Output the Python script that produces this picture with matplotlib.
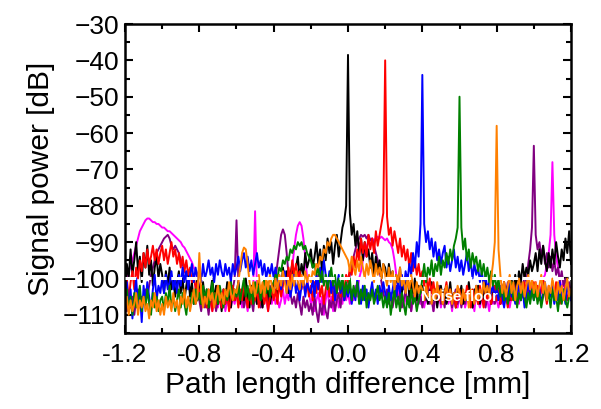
import numpy as np
import matplotlib
matplotlib.use("Agg")
import matplotlib.pyplot as plt
from matplotlib.ticker import MultipleLocator

# ---- data, grid step 0.01 mm from -1.2 to 1.2 ----
# each row = 20 samples (0.2 mm), final single value at x = 1.2
x_start, x_stop, n_pts = -1.2, 1.2, 241

black = [
    -104, -96, -100, -92, -99, -95, -90, -98, -94, -101, -93, -97, -91, -99, -95, -102, -97, -94, -100, -96,
    -99, -104, -98, -102, -97, -103, -100, -105, -101, -98, -104, -100, -106, -102, -99, -105, -101, -107, -103, -100,
    -103, -107, -101, -106, -103, -108, -104, -100, -106, -102, -107, -104, -109, -103, -106, -101, -105, -108, -103, -106,
    -104, -101, -107, -103, -106, -100, -105, -108, -102, -106, -103, -107, -101, -105, -108, -103, -106, -102, -107, -104,
    -102, -99, -105, -100, -103, -97, -101, -98, -104, -99, -96, -101, -97, -94, -100, -96, -99, -93, -97, -95,
    -92, -97, -94, -90, -96, -92, -98, -91, -95, -89, -93, -90, -96, -91, -88, -94, -90, -86, -84, -80,
    -38.5, -82, -88, -85, -91, -87, -93, -89, -95, -90, -94, -92, -97, -93, -99, -94, -98, -95, -100, -96,
    -97, -101, -96, -100, -98, -103, -99, -102, -97, -104, -100, -103, -99, -105, -101, -104, -100, -106, -102, -104,
    -102, -106, -103, -107, -104, -101, -106, -103, -108, -104, -102, -106, -103, -107, -105, -101, -106, -104, -108, -103,
    -105, -102, -107, -104, -106, -101, -105, -108, -103, -106, -102, -107, -104, -106, -101, -105, -103, -107, -104, -102,
    -106, -103, -107, -104, -101, -105, -102, -106, -100, -104, -99, -103, -98, -101, -96, -100, -97, -99, -95, -98,
    -96, -93, -98, -92, -96, -91, -95, -98, -93, -97, -92, -96, -90, -94, -97, -92, -95, -89, -93, -87,
    -96]

red = [
    -104, -100, -106, -101, -98, -103, -97, -100, -95, -98, -93, -97, -92, -96, -94, -91, -95, -92, -96, -93,
    -91, -95, -92, -96, -93, -90, -94, -92, -96, -93, -97, -94, -98, -95, -99, -97, -101, -99, -103, -101,
    -105, -102, -107, -104, -108, -103, -106, -109, -104, -107, -102, -106, -108, -103, -107, -104, -109, -105, -102, -106,
    -104, -108, -103, -106, -101, -105, -108, -103, -107, -104, -106, -102, -108, -105, -103, -107, -104, -109, -105, -103,
    -106, -103, -107, -101, -105, -102, -99, -103, -97, -101, -95, -99, -96, -100, -98, -103, -100, -104, -101, -105,
    -102, -106, -101, -104, -99, -105, -102, -107, -103, -100, -105, -101, -106, -102, -104, -100, -105, -101, -103, -99,
    -101, -97, -99, -94, -97, -92, -95, -89, -93, -90, -94, -88, -92, -89, -93, -87, -91, -88, -85, -82,
    -40, -83, -88, -86, -91, -87, -90, -93, -89, -94, -91, -95, -92, -97, -93, -98, -95, -99, -96, -100,
    -98, -102, -99, -103, -100, -104, -101, -105, -102, -106, -103, -107, -104, -101, -106, -103, -107, -104, -108, -105,
    -103, -107, -104, -106, -102, -105, -108, -103, -106, -104, -107, -102, -105, -108, -104, -106, -103, -107, -105, -102,
    -106, -103, -107, -104, -101, -105, -108, -103, -106, -102, -105, -107, -103, -106, -104, -101, -105, -102, -106, -103,
    -101, -105, -102, -106, -103, -100, -104, -107, -102, -105, -103, -106, -101, -104, -107, -103, -105, -102, -106, -104,
    -103]

blue = [
    -106, -101, -109, -103, -111, -105, -100, -108, -104, -112, -102, -107, -101, -105, -109, -103, -99, -106, -102, -104,
    -100, -104, -99, -103, -101, -98, -103, -100, -104, -99, -102, -97, -101, -98, -103, -99, -96, -101, -97, -100,
    -97, -101, -96, -100, -98, -95, -99, -97, -101, -96, -99, -95, -98, -100, -96, -99, -97, -101, -96, -99,
    -97, -94, -98, -95, -93, -97, -94, -98, -95, -99, -96, -93, -97, -95, -99, -96, -100, -97, -99, -96,
    -100, -97, -102, -99, -103, -100, -98, -104, -101, -105, -102, -99, -104, -101, -106, -102, -100, -105, -101, -103,
    -104, -100, -105, -99, -103, -97, -101, -95, -99, -102, -98, -104, -100, -106, -102, -99, -104, -101, -106, -103,
    -105, -102, -107, -103, -106, -100, -104, -107, -102, -106, -103, -108, -104, -101, -106, -103, -107, -102, -105, -101,
    -104, -107, -102, -106, -103, -100, -105, -101, -104, -99, -103, -98, -101, -96, -99, -93, -97, -90, -94, -85,
    -44, -85, -90, -87, -92, -89, -94, -90, -95, -92, -96, -93, -91, -97, -94, -98, -95, -92, -97, -94,
    -98, -95, -99, -96, -93, -98, -95, -100, -96, -99, -97, -101, -98, -102, -99, -103, -101, -104, -102, -105,
    -103, -106, -102, -105, -108, -104, -106, -101, -105, -103, -107, -104, -102, -106, -103, -108, -104, -101, -105, -103,
    -106, -102, -105, -103, -107, -104, -101, -106, -103, -105, -102, -107, -104, -106, -101, -105, -103, -107, -102, -104,
    -106]

green = [
    -107, -103, -109, -105, -110, -104, -108, -106, -102, -109, -105, -108, -103, -107, -110, -104, -108, -105, -109, -106,
    -105, -109, -104, -107, -102, -108, -105, -109, -106, -103, -108, -104, -107, -110, -105, -108, -104, -107, -103, -106,
    -104, -107, -102, -106, -103, -108, -105, -101, -106, -104, -107, -102, -105, -108, -103, -106, -104, -101, -106, -103,
    -105, -102, -106, -103, -100, -105, -102, -106, -103, -107, -101, -104, -102, -106, -103, -100, -104, -101, -105, -102,
    -101, -99, -100, -97, -98, -95, -96, -94, -95, -92, -93, -91, -92, -90, -91, -90, -92, -91, -93, -94,
    -95, -97, -96, -99, -97, -101, -98, -102, -99, -103, -100, -97, -102, -99, -104, -100, -103, -99, -105, -101,
    -104, -100, -106, -102, -105, -101, -107, -103, -106, -102, -108, -104, -106, -103, -107, -105, -102, -106, -104, -108,
    -105, -108, -104, -110, -106, -103, -108, -105, -109, -104, -107, -110, -105, -108, -103, -107, -105, -109, -106, -104,
    -100, -96, -101, -97, -99, -95, -100, -96, -98, -94, -99, -95, -97, -93, -96, -92, -95, -91, -89, -86,
    -50, -86, -92, -89, -95, -92, -97, -93, -96, -94, -98, -95, -99, -96, -100, -97, -101, -98, -102, -99,
    -103, -100, -105, -102, -106, -103, -107, -104, -101, -106, -103, -108, -104, -106, -102, -105, -108, -104, -107, -103,
    -106, -103, -107, -104, -108, -105, -102, -106, -104, -108, -103, -106, -105, -109, -104, -107, -103, -106, -108, -105,
    -104]

orange = [
    -108, -105, -110, -106, -109, -107, -104, -110, -106, -108, -105, -109, -107, -111, -106, -108, -104, -109, -106, -110,
    -107, -110, -105, -108, -106, -109, -104, -108, -106, -110, -105, -107, -103, -108, -105, -109, -106, -103, -107, -105,
    -93, -104, -108, -105, -107, -103, -106, -104, -108, -105, -102, -106, -104, -107, -103, -105, -101, -104, -106, -103,
    -104, -101, -97, -93, -91.5, -92, -96, -101, -104, -101, -105, -102, -99, -104, -101, -105, -100, -103, -99, -102,
    -104, -100, -103, -99, -102, -98, -101, -104, -100, -103, -99, -102, -98, -101, -103, -99, -102, -98, -101, -99,
    -101, -98, -99, -96, -97, -94, -95, -92, -93, -90, -91, -89, -88, -88, -89, -90, -91, -92, -93, -94,
    -95, -98, -94, -97, -99, -95, -98, -94, -97, -100, -96, -99, -95, -98, -101, -96, -99, -97, -100, -96,
    -99, -102, -97, -101, -98, -103, -99, -101, -97, -102, -100, -104, -100, -103, -99, -102, -105, -101, -104, -102,
    -103, -106, -102, -105, -104, -107, -103, -106, -101, -105, -103, -107, -104, -102, -106, -103, -107, -104, -105, -102,
    -104, -107, -103, -106, -104, -108, -103, -105, -107, -102, -106, -103, -105, -101, -104, -102, -105, -100, -96, -90,
    -58, -92, -99, -104, -101, -105, -102, -99, -104, -101, -106, -102, -100, -104, -101, -105, -102, -99, -103, -100,
    -104, -101, -105, -102, -99, -104, -101, -106, -102, -104, -100, -103, -106, -101, -104, -102, -106, -103, -100, -105,
    -103]

purple = [
    -106, -109, -104, -108, -105, -110, -106, -103, -108, -105, -107, -103, -105, -102, -99, -97, -95, -93, -92, -91,
    -90, -89, -88.5, -88, -89, -91, -92, -91, -92, -93, -95, -96, -98, -99, -101, -103, -105, -104, -107, -105,
    -106, -109, -104, -108, -106, -110, -105, -107, -104, -109, -106, -103, -108, -105, -107, -104, -108, -106, -103, -100,
    -84, -101, -106, -104, -108, -105, -107, -103, -106, -109, -104, -107, -105, -108, -103, -106, -104, -107, -102, -105,
    -103, -100, -96, -92, -88, -86.5, -88, -93, -99, -104, -107, -105, -108, -104, -107, -110, -105, -108, -106, -109,
    -107, -110, -105, -109, -112, -107, -110, -106, -109, -111, -106, -108, -105, -109, -106, -104, -108, -103, -106, -104,
    -102, -99, -97, -94, -92, -90, -89, -88, -88.5, -88, -89, -88, -89.5, -89, -91, -93, -95, -98, -101, -104,
    -106, -103, -107, -104, -108, -105, -102, -107, -104, -108, -106, -103, -107, -105, -109, -104, -106, -103, -107, -105,
    -108, -104, -106, -103, -107, -105, -109, -104, -106, -102, -107, -105, -108, -103, -106, -104, -108, -105, -103, -107,
    -104, -108, -105, -107, -103, -106, -104, -108, -105, -102, -107, -104, -106, -103, -108, -105, -102, -106, -104, -107,
    -105, -102, -106, -103, -107, -104, -101, -105, -102, -106, -103, -100, -104, -101, -103, -99, -101, -96, -92, -86,
    -63.5, -88, -92, -90, -94, -91, -96, -93, -97, -94, -98, -95, -99, -97, -101, -98, -102, -100, -103, -101,
    -104]

magenta = [
    -101, -100, -98, -97, -95, -93, -91, -89, -87, -86, -85, -84, -83.5, -83.5, -84, -84.5, -84.5, -85, -85, -85.5,
    -86, -86, -86.5, -87, -87, -87.5, -88, -88.5, -89, -89.5, -90, -91, -91.5, -92.5, -93.5, -94.5, -95.5, -97, -98, -100,
    -102, -105, -103, -107, -104, -108, -105, -109, -106, -103, -108, -105, -107, -104, -109, -106, -104, -108, -105, -107,
    -104, -107, -105, -108, -104, -106, -109, -105, -107, -103, -81.5, -103, -107, -105, -108, -104, -106, -109, -105, -107,
    -104, -107, -105, -108, -106, -103, -107, -104, -106, -101, -97, -92, -88, -85.5, -84.5, -85.5, -89, -94, -100, -104,
    -107, -105, -109, -106, -104, -108, -105, -110, -106, -103, -108, -105, -109, -106, -104, -108, -105, -107, -103, -106,
    -104, -107, -103, -106, -102, -105, -100, -98, -95, -93, -91, -90, -89.5, -89, -89.5, -89, -88.5, -89, -88.5, -89,
    -89.5, -89, -90, -90.5, -92, -95, -99, -103, -106, -104, -108, -105, -107, -104, -109, -106, -103, -108, -105, -107,
    -104, -108, -105, -107, -103, -106, -109, -105, -107, -104, -108, -105, -106, -103, -107, -105, -109, -104, -106, -108,
    -105, -107, -104, -108, -106, -103, -107, -105, -109, -104, -106, -108, -105, -107, -103, -106, -109, -105, -107, -104,
    -106, -108, -105, -107, -103, -106, -104, -108, -105, -102, -106, -104, -107, -103, -105, -102, -106, -103, -105, -101,
    -104, -101, -105, -102, -104, -100, -99, -96, -93, -88, -68, -88, -94, -97, -100, -103, -101, -104, -102, -105,
    -103]

# drawing order (bottom to top)
series = [("#ff00ff", magenta), ("#800080", purple), ("black", black),
          ("#ff0000", red), ("#0000ff", blue), ("#008000", green),
          ("#ff8000", orange)]

noise_floor = -100
x_ticks_major = [-1.2, -0.8, -0.4, 0.0, 0.4, 0.8, 1.2]
y_ticks_major = list(range(-110, -29, 10))

# ---- figure ----
plt.rcParams['font.family'] = ['Liberation Sans', 'DejaVu Sans']
fig = plt.figure(figsize=(6.01, 4.09), dpi=100)
ax = fig.add_axes([125/601, 76/409, 446/601, 309/409])

x = np.linspace(x_start, x_stop, n_pts)
for col, vals in series:
    n = min(len(vals), n_pts)
    ax.plot(x[:n], vals[:n], color=col, lw=1.4, zorder=2)

ax.axhline(noise_floor, color='white', lw=2.2, dashes=(3.5, 1.5), zorder=3)
ax.text(0.60, -105, "Noise floor", color='white', fontsize=10.5,
        fontweight='bold', ha='center', va='center', zorder=4)

ax.set_xlim(-1.2, 1.2)
ax.set_ylim(-115, -30)
ax.set_xticks(x_ticks_major)
ax.set_xticklabels([f"{v:.1f}" for v in x_ticks_major])
ax.set_yticks(y_ticks_major)
ax.xaxis.set_minor_locator(MultipleLocator(0.2))
ax.yaxis.set_minor_locator(MultipleLocator(5))
ax.tick_params(which='both', direction='in', top=True, right=True,
               labeltop=False, labelright=False, width=1.5)
ax.tick_params(which='major', length=6)
ax.tick_params(which='minor', length=3.5)
ax.tick_params(axis='x', labelsize=19, pad=7)
ax.tick_params(axis='y', labelsize=19, pad=4)
for s in ax.spines.values():
    s.set_linewidth(1.8)

ax.set_xlabel("Path length difference [mm]", fontsize=21.5, labelpad=3)
ax.set_ylabel("Signal power [dB]", fontsize=21.5, labelpad=4)

fig.savefig("out.png", dpi=100)
